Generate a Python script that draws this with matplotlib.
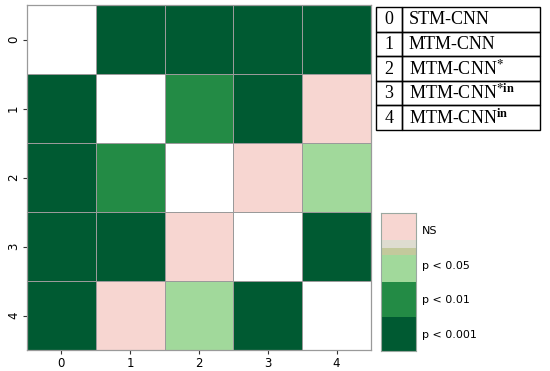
import numpy as np
import matplotlib.pyplot as plt
from matplotlib.colors import ListedColormap, BoundaryNorm
from matplotlib.patches import Rectangle

# significance codes: -1 = same model (diagonal), 0 = NS, 1 = p<0.05, 2 = p<0.01, 3 = p<0.001
models = ["STM-CNN", "MTM-CNN", r"MTM-CNN$^{\mathbf{*}}$",
          r"MTM-CNN$^{\mathbf{*in}}$", r"MTM-CNN$^{\mathbf{in}}$"]
idx = [0, 1, 2, 3, 4]
sig = np.array([
    [-1, 3, 3, 3, 3],
    [3, -1, 2, 3, 0],
    [3, 2, -1, 0, 1],
    [3, 3, 0, -1, 3],
    [3, 0, 1, 3, -1],
])
cell_colors = ["#ffffff", "#f7d6d1", "#a1d99b", "#238b45", "#005a32"]

# colour bar segments (bottom to top) and their extents
cbar_colors = ["#005a32", "#238b45", "#a1d99b", "#c3c99c", "#dedcd0", "#f7d6d1"]
cbar_bounds = [0, 1, 2, 2.77, 3.0, 3.23, 4.0]
cbar_ticks = [0.5, 1.5, 2.5, 3.5]
cbar_labels = ["p < 0.001", "p < 0.01", "p < 0.05", "NS"]

plt.rcParams["mathtext.fontset"] = "stix"

fig = plt.figure(figsize=(5.5, 3.71), dpi=100)
ax = fig.add_axes([27 / 550, 1 - 350 / 371, 344 / 550, 345 / 371])

cmap = ListedColormap(cell_colors)
norm = BoundaryNorm([-1.5, -0.5, 0.5, 1.5, 2.5, 3.5], cmap.N)
ax.pcolormesh(np.arange(6) - 0.5, np.arange(6) - 0.5, sig, cmap=cmap, norm=norm,
              edgecolor="#9a9a9a", linewidth=0.5)
ax.set_xlim(-0.5, 4.5)
ax.set_ylim(4.5, -0.5)
ax.set_xticks(idx)
ax.set_yticks(idx)
ax.set_xticklabels([str(i) for i in idx], fontsize=8.5)
ax.set_yticklabels([str(i) for i in idx], fontsize=8.5, rotation=90, va="center")
ax.tick_params(length=3, width=0.8, color="#333333", pad=2)
for sp in ax.spines.values():
    sp.set_color("#9a9a9a")
    sp.set_linewidth(0.9)

# colour bar
cax = fig.add_axes([381 / 550, 1 - 351 / 371, 35 / 550, 138 / 371])
ccmap = ListedColormap(cbar_colors)
cnorm = BoundaryNorm(cbar_bounds, ccmap.N)
mids = [(a + b) / 2 for a, b in zip(cbar_bounds[:-1], cbar_bounds[1:])]
cax.pcolormesh([0, 1], cbar_bounds, np.array(mids).reshape(-1, 1), cmap=ccmap, norm=cnorm)
cax.set_xlim(0, 1)
cax.set_ylim(0, 4)
cax.set_xticks([])
cax.yaxis.tick_right()
cax.set_yticks(cbar_ticks)
cax.set_yticklabels(cbar_labels, fontsize=8)
cax.tick_params(axis="y", length=0, pad=4)
for sp in cax.spines.values():
    sp.set_color("#9aa8a0")
    sp.set_linewidth(0.8)

# legend table
tax = fig.add_axes([376 / 550, 1 - 130 / 371, 164 / 550, 123 / 371])
tax.set_xlim(0, 164)
tax.set_ylim(123, 0)
tax.axis("off")
rh = 123 / 5
for i, (k, name) in enumerate(zip(idx, models)):
    y0 = i * rh
    tax.add_patch(Rectangle((0, y0), 26, rh, fill=False, edgecolor="black", linewidth=1, clip_on=False))
    tax.add_patch(Rectangle((26, y0), 138, rh, fill=False, edgecolor="black", linewidth=1, clip_on=False))
    tax.text(13, y0 + rh / 2 + 0.5, str(k), ha="center", va="center",
             fontsize=13, family="Liberation Serif")
    tax.text(33, y0 + rh / 2 + 0.5, name, ha="left", va="center",
             fontsize=13, family="Liberation Serif")

fig.savefig("out.png", dpi=100)
